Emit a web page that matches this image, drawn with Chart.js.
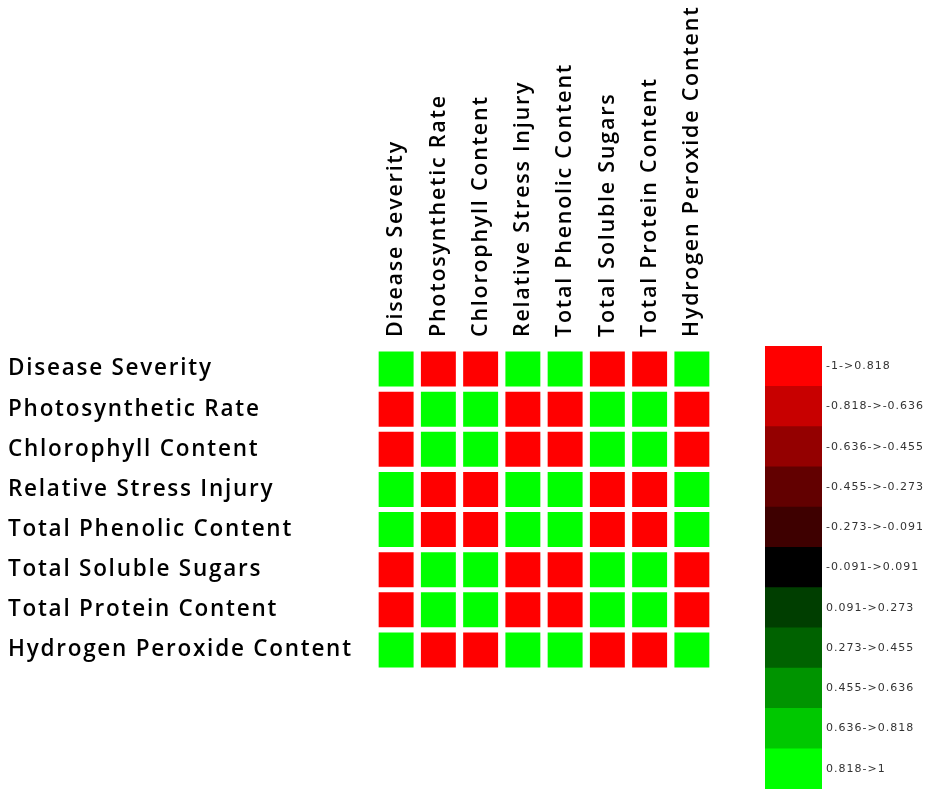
<!DOCTYPE html>
<html>
<head>
<meta charset="utf-8">
<script src="https://cdn.jsdelivr.net/npm/chart.js@4/dist/chart.umd.min.js"></script>
<style>
  html, body { margin: 0; padding: 0; background: #ffffff; }
  #wrap { position: relative; width: 935px; height: 795px; }
  #main { position: absolute; left: 0; top: 0; }
  #legend { position: absolute; left: 765px; top: 346px; }
</style>
</head>
<body>
<div id="wrap">
  <canvas id="main" width="935" height="795"></canvas>
  <canvas id="legend" width="170" height="443"></canvas>
</div>
<script>
// ---------- data ----------
const variables = [
  "Disease Severity",
  "Photosynthetic Rate",
  "Chlorophyll Content",
  "Relative Stress Injury",
  "Total Phenolic Content",
  "Total Soluble Sugars",
  "Total Protein Content",
  "Hydrogen Peroxide Content"
];

// correlation rows (estimated; all cells are in the saturated |r| > 0.818 bins)
const rowDiseaseSeverity      = [ 1.00, -0.96, -0.95,  0.97,  0.94, -0.93, -0.95,  0.96];
const rowPhotosyntheticRate   = [-0.96,  1.00,  0.98, -0.95, -0.93,  0.94,  0.96, -0.97];
const rowChlorophyllContent   = [-0.95,  0.98,  1.00, -0.94, -0.92,  0.93,  0.95, -0.96];
const rowRelativeStressInjury = [ 0.97, -0.95, -0.94,  1.00,  0.95, -0.92, -0.94,  0.96];
const rowTotalPhenolic        = [ 0.94, -0.93, -0.92,  0.95,  1.00, -0.95, -0.93,  0.95];
const rowTotalSolubleSugars   = [-0.93,  0.94,  0.93, -0.92, -0.95,  1.00,  0.94, -0.94];
const rowTotalProtein         = [-0.95,  0.96,  0.95, -0.94, -0.93,  0.94,  1.00, -0.95];
const rowHydrogenPeroxide     = [ 0.96, -0.97, -0.96,  0.96,  0.95, -0.94, -0.95,  1.00];

const matrixRows = [
  rowDiseaseSeverity, rowPhotosyntheticRate, rowChlorophyllContent, rowRelativeStressInjury,
  rowTotalPhenolic, rowTotalSolubleSugars, rowTotalProtein, rowHydrogenPeroxide
];

// legend bins
const binLabels = [
  "-1->0.818", "-0.818->-0.636", "-0.636->-0.455", "-0.455->-0.273", "-0.273->-0.091",
  "-0.091->0.091", "0.091->0.273", "0.273->0.455", "0.455->0.636", "0.636->0.818", "0.818->1"
];
const binEdges = [-1, -0.818, -0.636, -0.455, -0.273, -0.091, 0.091, 0.273, 0.455, 0.636, 0.818, 1];
const binColors = [
  "#ff0000", "#c80000", "#940000", "#620000", "#3e0000",
  "#000000", "#003e00", "#006200", "#009400", "#00c800", "#00ff00"
];
const binOnes = [1, 1, 1, 1, 1, 1, 1, 1, 1, 1, 1];

// ---------- helpers ----------
function colorFor(v) {
  for (let i = 0; i < binColors.length; i++) {
    if (v <= binEdges[i + 1]) return binColors[i];
  }
  return binColors[binColors.length - 1];
}

const cells = [];
matrixRows.forEach((row, r) => {
  row.forEach((v, c) => {
    cells.push({ x: variables[c], y: variables[r], v: v });
  });
});

const FONT = "'Open Sans', 'DejaVu Sans', sans-serif";

function spacingPlugin(px) {
  return {
    id: 'spacing' + px.replace('.', '_'),
    beforeDraw(chart) { chart.ctx.letterSpacing = px; }
  };
}

// ---------- main heatmap ----------
new Chart(document.getElementById('main'), {
  type: 'scatter',
  data: {
    datasets: [{
      data: cells,
      pointStyle: 'rect',
      pointRadius: 24.7,
      pointHoverRadius: 24.7,
      borderWidth: 0,
      backgroundColor: (ctx) => ctx.raw ? colorFor(ctx.raw.v) : '#000'
    }]
  },
  plugins: [spacingPlugin('1.75px')],
  options: {
    responsive: false,
    animation: false,
    events: [],
    layout: { padding: { left: 8, top: 0, right: 222, bottom: 125 } },
    plugins: { legend: { display: false }, tooltip: { enabled: false } },
    scales: {
      x: {
        type: 'category',
        labels: variables,
        position: 'top',
        offset: true,
        grid: { display: false, drawTicks: false },
        border: { display: false },
        ticks: {
          autoSkip: false,
          minRotation: 90,
          maxRotation: 90,
          padding: 12,
          labelOffset: 26,
          color: '#000000',
          font: { family: FONT, size: 21.5, weight: '600' }
        },
        afterFit: (s) => { s.height = 349; s.paddingLeft = 0; s.paddingRight = 0; }
      },
      y: {
        type: 'category',
        labels: variables,
        position: 'left',
        offset: true,
        grid: { display: false, drawTicks: false },
        border: { display: false },
        ticks: {
          autoSkip: false,
          crossAlign: 'far',
          color: '#000000',
          font: { family: FONT, size: 22.5, weight: '600' }
        },
        afterFit: (s) => { s.width = 367; s.paddingTop = 0; s.paddingBottom = 0; }
      }
    }
  }
});

// ---------- colour key ----------
new Chart(document.getElementById('legend'), {
  type: 'bar',
  data: {
    labels: binLabels,
    datasets: [{
      data: binOnes,
      backgroundColor: binColors,
      borderWidth: 0,
      barPercentage: 1.0,
      categoryPercentage: 1.0
    }]
  },
  plugins: [spacingPlugin('1px')],
  options: {
    indexAxis: 'y',
    responsive: false,
    animation: false,
    events: [],
    layout: { padding: 0 },
    plugins: { legend: { display: false }, tooltip: { enabled: false } },
    scales: {
      x: { display: false, min: 0, max: 1 },
      y: {
        position: 'right',
        grid: { display: false, drawTicks: false },
        border: { display: false },
        ticks: {
          padding: 4,
          color: '#333333',
          font: { family: "'DejaVu Sans', Arial, sans-serif", size: 11 }
        },
        afterFit: (s) => { s.width = 113; s.paddingTop = 0; s.paddingBottom = 0; }
      }
    }
  }
});
</script>
</body>
</html>
